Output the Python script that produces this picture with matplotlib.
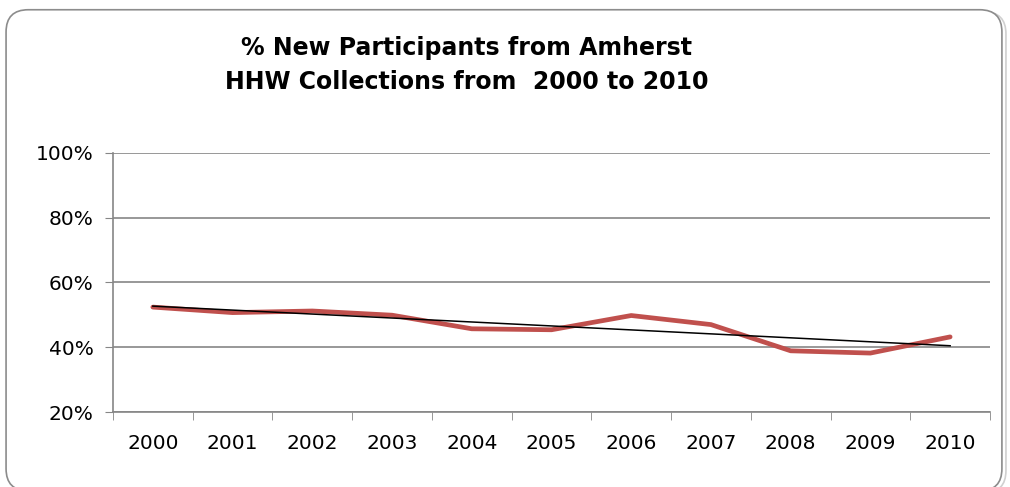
import numpy as np
import matplotlib.pyplot as plt
from matplotlib.patches import FancyBboxPatch

years = ["2000", "2001", "2002", "2003", "2004", "2005",
         "2006", "2007", "2008", "2009", "2010"]
pct_new = [52.4, 50.7, 51.2, 49.9, 45.7, 45.4, 49.8, 47.0, 38.9, 38.2, 43.2]
y_ticks = [20, 40, 60, 80, 100]

RED = "#C0504D"
GRID = "#868686"

fig = plt.figure(figsize=(10.10, 4.87), dpi=100)

# rounded chart-area border with a soft shadow
for off, col in [(0.004, "#d0d0d0"), (0.0, "#8c8c8c")]:
    fig.patches.append(FancyBboxPatch(
        (0.006 + off, -0.008 - off), 0.986, 0.988,
        boxstyle="round,pad=0,rounding_size=0.022",
        transform=fig.transFigure, fill=(off == 0), facecolor="white",
        edgecolor=col, lw=1.2, zorder=-2 if off else -1,
        mutation_aspect=1010 / 487))

ax = fig.add_axes([113 / 1010, 1 - 412 / 487, 877 / 1010, 259 / 487])
ax.set_facecolor("none")

x = np.arange(len(years))
ax.plot(x, pct_new, color=RED, lw=3.4, solid_capstyle="round",
        solid_joinstyle="round", zorder=3)
slope, icpt = np.polyfit(x, pct_new, 1)
ax.plot(x, slope * x + icpt, color="black", lw=1.1, zorder=4)

ax.set_xlim(-0.5, len(years) - 0.5)
ax.set_ylim(20, 100)
ax.set_yticks(y_ticks)
ax.set_yticklabels([f"{v}%" for v in y_ticks])
ax.set_xticks(x)
ax.set_xticklabels(years)
ax.set_xticks(np.arange(-0.5, len(years)), minor=True)
ax.tick_params(axis="x", which="major", length=0, pad=16, labelsize=14.5)
ax.tick_params(axis="x", which="minor", length=6, color=GRID, direction="out")
ax.tick_params(axis="y", length=6, color=GRID, pad=8, labelsize=14.5)
ax.yaxis.grid(True, color=GRID, lw=1.2)
ax.set_axisbelow(True)
for s in ["top", "right"]:
    ax.spines[s].set_visible(False)
for s in ["left", "bottom"]:
    ax.spines[s].set_color(GRID)
    ax.spines[s].set_linewidth(1.2)

fig.text(0.462, 1 - 65 / 487, "% New Participants from Amherst\nHHW Collections from  2000 to 2010",
         ha="center", va="center", fontsize=17, fontweight="bold",
         linespacing=1.55)

fig.savefig("out.png", dpi=100)
